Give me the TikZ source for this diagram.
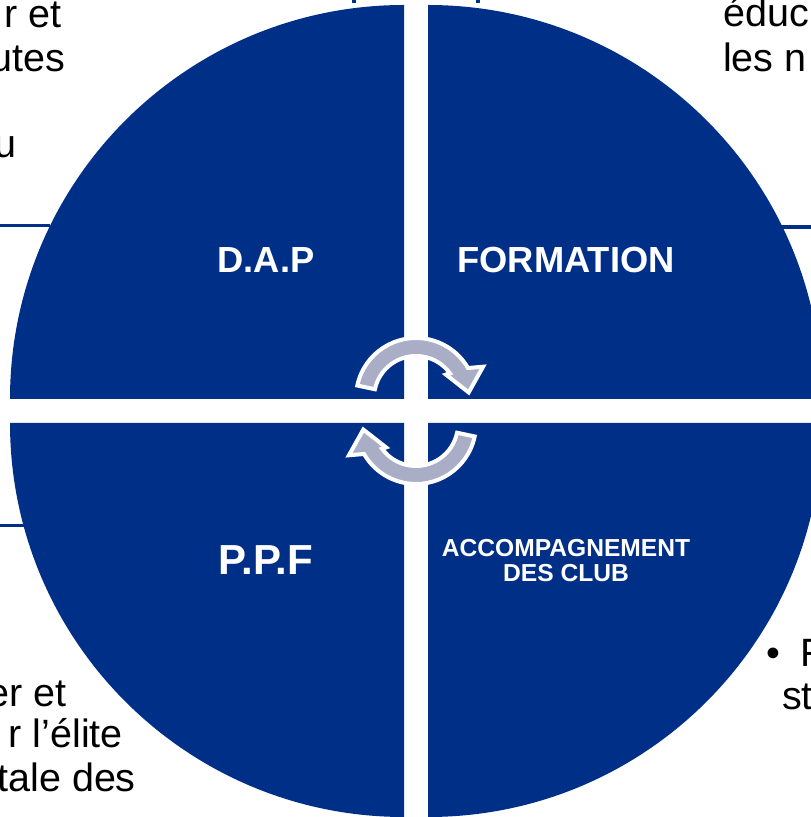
\documentclass[tikz,border=0pt]{standalone}
\usepackage{fontspec}
\setmainfont{Liberation Sans}
\definecolor{dapblue}{RGB}{0,47,135}
\definecolor{arrowgray}{RGB}{169,173,197}

\begin{document}
\begin{tikzpicture}[x=1pt,y=1pt,
    quarter/.style={fill=dapblue},
    label/.style={text=white,font=\bfseries\fontsize{36.3}{40}\selectfont,inner sep=0},
    bodytext/.style={font=\fontsize{39.5}{44}\selectfont,inner sep=0},
    frameline/.style={draw=dapblue,line width=3.5},
    cyclearrow/.style={fill=arrowgray,draw=white,line width=4,line join=miter}]
    \useasboundingbox (0,0) rectangle (811,817);
    \clip (0,0) rectangle (811,817);
    % bits of the frames round the text boxes
    \draw[frameline] (0,591.3) -- (50,591.3);
    \draw[frameline] (0,291.3) -- (25,291.3);
    \draw[frameline] (780,590) -- (811,590);
    \draw[frameline] (354,817) -- (354,814);
    \draw[frameline] (478,817) -- (478,814);
    % the four quarters
    \fill[quarter] (404,418) -- ++(-394,0) arc[start angle=180,end angle=90,radius=394] -- cycle;
    \fill[quarter] (428,418) -- ++(0,394) arc[start angle=90,end angle=0,radius=394] -- cycle;
    \fill[quarter] (404,394) -- ++(0,-394) arc[start angle=270,end angle=180,radius=394] -- cycle;
    \fill[quarter] (428,394) -- ++(394,0) arc[start angle=0,end angle=-90,radius=394] -- cycle;
    \node[label,anchor=base] (dap) at (266,544) {D.A.P};
    \node[label,anchor=base] (formation) at (566,544) {FORMATION};
    \node[label,font=\bfseries\fontsize{42}{44}\selectfont,anchor=base] (ppf) at (266,242) {P.P.F};
    \node[label,font=\bfseries\fontsize{24.6}{25}\selectfont,align=center] (accomp) at (566,256)
        {ACCOMPAGNEMENT\\DES CLUB};
    % the two turning arrows
    \foreach \cy/\rot in {419/0,393/180}{
        \begin{scope}[shift={(416,\cy)},rotate=\rot]
            \filldraw[cyclearrow] (168:60) arc[start angle=168,end angle=30,radius=60]
                -- (25:74) -- (6:53) -- (38:38) -- (36:42)
                arc[start angle=36,end angle=168,radius=42] -- cycle;
        \end{scope}
    }
    % text cut at the edges
    \node[bodytext,anchor=base east] (tla) at (62,789) {r et};
    \node[bodytext,anchor=base east] (tlb) at (65,745) {utes};
    \node[bodytext,anchor=base east] (tlc) at (17,659) {u};
    \node[bodytext,anchor=base west] (tra) at (723,790) {éduc};
    \node[bodytext,anchor=base west] (trb) at (723,745) {les n};
    \node[bodytext,anchor=base east] (bla) at (67,110) {er et};
    \node[bodytext,anchor=base east] (blb) at (123,69) {r l’élite};
    \node[bodytext,anchor=base east] (blc) at (136,25) {tale des};
    \node[bodytext,anchor=base west] (bra) at (766,150) {•\hspace{20pt}F};
    \node[bodytext,anchor=base west] (brb) at (782,107) {st};
\end{tikzpicture}
\end{document}
